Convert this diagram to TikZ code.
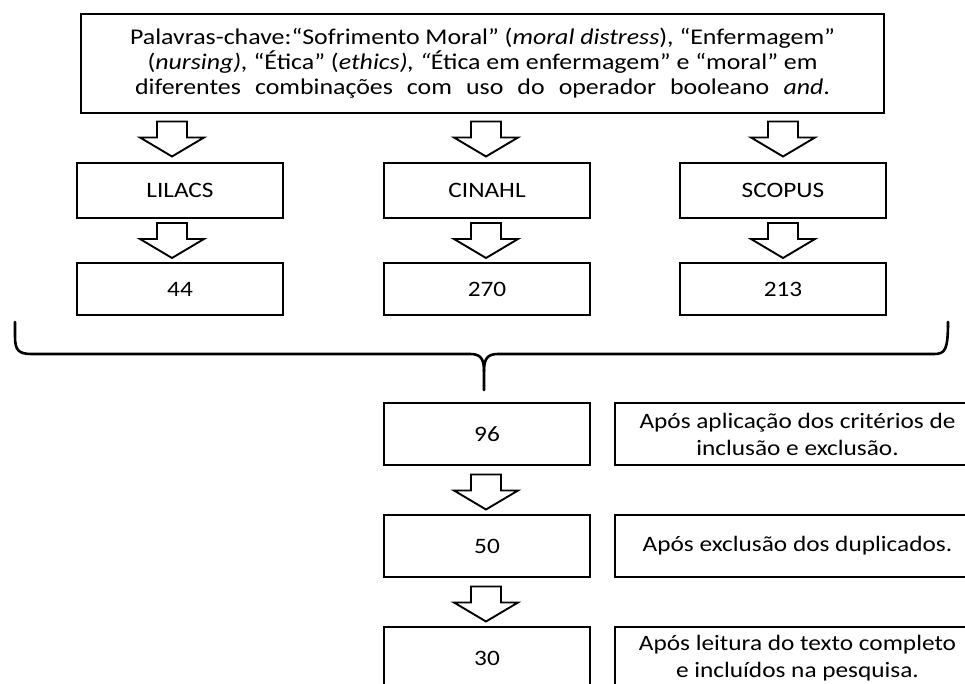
\documentclass[tikz,border=0pt]{standalone}
\usepackage{fontspec}
\setmainfont{Carlito}[FakeStretch=1.15]
\usetikzlibrary{calc}
\tikzset{
  harrow/.pic={\draw[line width=1.9pt, line join=miter, fill=white]
    (-15,-17.5) -- (15,-17.5) -- (15,-1.5) -- (32,-1.5) -- (0,17.5)
    -- (-32,-1.5) -- (-15,-1.5) -- cycle;},
  box/.style={draw, line width=2.6pt, minimum width=206pt, minimum height=55pt,
    inner sep=0pt, align=center, font=\fontsize{22}{25}\selectfont},
  numbox/.style={box, minimum height=52pt},
  lowbox/.style={box, minimum height=62pt},
  notebox/.style={box, minimum width=365pt, minimum height=62pt, font=\fontsize{22}{27}\selectfont},
  bracel/.style={line width=2.6pt, line cap=round, line join=round}
}
\begin{document}
\begin{tikzpicture}[x=1pt,y=-1pt]
\useasboundingbox (0,0) rectangle (965,684);
\clip (0,0) rectangle (965,684);
\fill[white] (0,0) rectangle (965,684);

\node[box, minimum width=803pt, minimum height=99pt, font=\fontsize{22.5}{25}\selectfont] (top) at (482.5,63.5)
  {Palavras-chave:“Sofrimento Moral” (\emph{moral distress}), “Enfermagem”\\
   (\emph{nursing),} “Ética” (\emph{ethics), “}Ética em enfermagem” e “moral” em\\
   \makebox[695pt][s]{diferentes combinações com uso do operador booleano \emph{and}.}};

\node[box] (lil) at (180,190.5) {LILACS};
\node[box] (cin) at (487,190.5) {CINAHL};
\node[box] (sco) at (783,190.5) {SCOPUS};

\node[numbox] (n44) at (180,289) {44};
\node[numbox] (n270) at (487,289) {270};
\node[numbox] (n213) at (783,289) {213};

\pic at ($(top.south -| lil.north)!0.5!(lil.north)+(-8,1)$) {harrow};
\pic at ($(top.south -| cin.north)!0.5!(cin.north)+(-1,1)$) {harrow};
\pic at ($(top.south -| sco.north)!0.5!(sco.north)+(0,1)$) {harrow};
\pic at ($(lil.south)!0.5!(n44.north)+(-8,0)$) {harrow};
\pic at ($(cin.south)!0.5!(n270.north)+(-1,0)$) {harrow};
\pic at ($(sco.south)!0.5!(n213.north)$) {harrow};

% brace
\coordinate (bl) at (15,322);
\coordinate (br) at (948,322);
\coordinate (bt) at (484,390);
\draw[bracel] (bl) -- (15,336) .. controls (15,350) and (18,354) .. (32,354)
  -- (470,354) .. controls (480,354) and (484,358) .. (484,371) -- (bt);
\draw[bracel] (484,371) .. controls (484,358) and (488,354) .. (498,354)
  -- (934,354) .. controls (945,354) and (948,350) .. (br);

\node[lowbox] (n96) at (487,434) {96};
\node[lowbox] (n50) at (487,546) {50};
\node[lowbox] (n30) at (487,658) {30};

\node[notebox] (t96) at (797.5,434) {Após aplicação dos critérios de\\inclusão e exclusão.};
\node[notebox] (t50) at (797.5,546) {Após exclusão dos duplicados.};
\node[notebox] (t30) at (797.5,658) {Após leitura do texto completo\\e incluídos na pesquisa.};

\pic at ($(n96.south)!0.5!(n50.north)+(-1,2)$) {harrow};
\pic at ($(n50.south)!0.5!(n30.north)+(-1,2)$) {harrow};
\end{tikzpicture}
\end{document}
